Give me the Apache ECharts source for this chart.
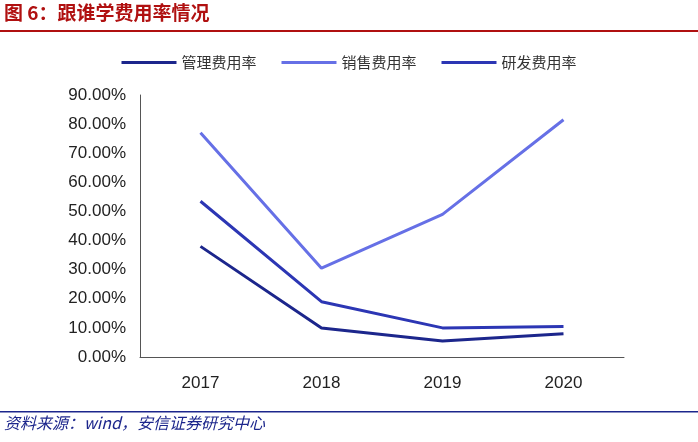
<!DOCTYPE html>
<html><head><meta charset="utf-8">
<script src="https://cdn.jsdelivr.net/npm/echarts@6/dist/echarts.min.js"></script>
<style>body{margin:0;background:#fff}#c{width:698px;height:442px}</style>
</head><body><div id="c"></div>
<script>
const categories = ['2017','2018','2019','2020'];
const guanli = [38.0, 10.0, 5.5, 8.0];
const xiaoshou = [77.0, 30.5, 49.0, 81.5];
const yanfa = [53.5, 19.0, 10.0, 10.5];
const names = ['管理费用率','销售费用率','研发费用率'];
const colors = ['#1c268c','#6670e6','#2c36b4'];
const chart = echarts.init(document.getElementById('c'));
const font = '"Noto Sans CJK SC", sans-serif';
chart.setOption({
  animation:false,
  graphic:[
    {type:'text',left:4,top:3,style:{text:'图 6：跟谁学费用率情况',fill:'#b01010',font:'bold 19px "Noto Sans CJK SC"'}},
    {type:'rect',shape:{x:0,y:30,width:698,height:2},style:{fill:'#b01010'}},
    {type:'rect',shape:{x:0,y:411,width:698,height:1.5},style:{fill:'#1c268c'}},
    {type:'text',left:4,top:415,style:{text:'资料来源：wind，安信证券研究中心',fill:'#1c268c',font:'italic 16px "Noto Sans CJK SC"'}}
  ],
  legend:{top:50,left:'center',itemWidth:55,itemHeight:3,itemGap:25,icon:'rect',
    textStyle:{fontSize:15,color:'#333',fontFamily:font},data:names},
  grid:{left:140,right:74,top:95,bottom:85},
  xAxis:{type:'category',data:categories,boundaryGap:true,
    axisLine:{lineStyle:{color:'#555'}},axisTick:{show:false},
    axisLabel:{fontSize:17,color:'#222',margin:18,fontFamily:'Arial'}},
  yAxis:{type:'value',min:0,max:90,interval:10,
    axisLine:{show:true,lineStyle:{color:'#555'}},splitLine:{show:false},
    axisLabel:{fontSize:17,color:'#222',formatter:v=>v.toFixed(2)+'%',fontFamily:'Arial',margin:14}},
  series:[
    {name:names[0],type:'line',data:guanli,symbol:'none',lineStyle:{width:3,color:colors[0]},itemStyle:{color:colors[0]}},
    {name:names[1],type:'line',data:xiaoshou,symbol:'none',lineStyle:{width:3,color:colors[1]},itemStyle:{color:colors[1]}},
    {name:names[2],type:'line',data:yanfa,symbol:'none',lineStyle:{width:3,color:colors[2]},itemStyle:{color:colors[2]}}
  ]
});
</script></body></html>
